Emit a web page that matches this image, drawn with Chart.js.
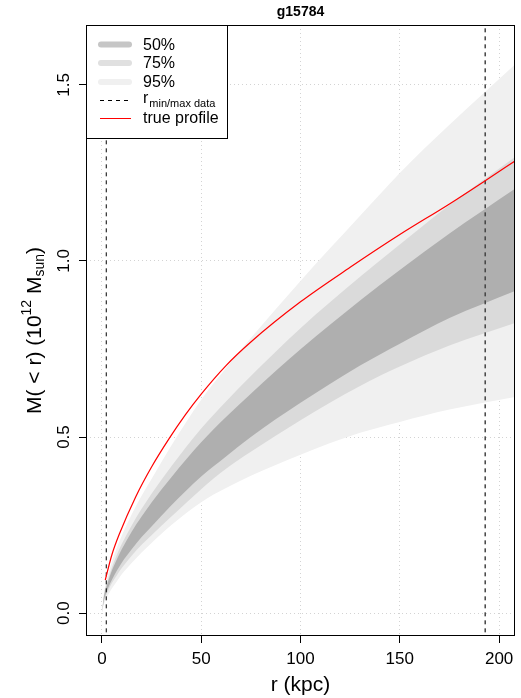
<!DOCTYPE html>
<html>
<head>
<meta charset="utf-8">
<script src="https://cdn.jsdelivr.net/npm/chart.js@4/dist/chart.umd.min.js"></script>
<style>
  body { margin: 0; background: #fff; }
  canvas { display: block; }
</style>
</head>
<body>
<canvas id="massChart" width="521" height="698"></canvas>
<script>
// radius grid (kpc)
const radius = [0, 1, 2, 3.5, 5, 7.5, 10, 15, 20, 25, 35, 50, 62.5, 75, 100, 130, 150, 175, 208];

// credible bands, M(<r) in 1e12 Msun
const upper95 = [0, 0.056, 0.084, 0.117, 0.146, 0.185, 0.220, 0.280, 0.333, 0.381, 0.476, 0.606, 0.696, 0.781, 0.943, 1.128, 1.250, 1.387, 1.558];
const upper75 = [0, 0.050, 0.075, 0.104, 0.129, 0.165, 0.196, 0.249, 0.296, 0.339, 0.417, 0.524, 0.601, 0.673, 0.809, 0.955, 1.047, 1.159, 1.295];
const upper50 = [0, 0.046, 0.069, 0.096, 0.120, 0.152, 0.181, 0.231, 0.274, 0.314, 0.386, 0.485, 0.557, 0.623, 0.749, 0.888, 0.974, 1.078, 1.205];
const lower50 = [0, 0.036, 0.055, 0.076, 0.094, 0.120, 0.143, 0.181, 0.216, 0.246, 0.306, 0.388, 0.445, 0.500, 0.597, 0.703, 0.765, 0.838, 0.915];
const lower75 = [0, 0.032, 0.049, 0.068, 0.085, 0.107, 0.128, 0.163, 0.194, 0.221, 0.274, 0.352, 0.410, 0.458, 0.548, 0.645, 0.700, 0.760, 0.824];
const lower95 = [0, 0.025, 0.039, 0.055, 0.070, 0.090, 0.110, 0.142, 0.172, 0.199, 0.250, 0.315, 0.355, 0.390, 0.450, 0.512, 0.543, 0.578, 0.614];

// true profile
const trueR = [1.7, 5, 8.9, 17, 25, 34, 42, 50, 62.5, 75, 100, 125, 150, 175, 193, 208];
const trueM = [0.094, 0.165, 0.226, 0.330, 0.415, 0.497, 0.563, 0.622, 0.703, 0.770, 0.884, 0.982, 1.075, 1.162, 1.228, 1.284];

// r_min / r_max of the data
const dataLimits = [2.2, 193];

const xTicks = [0, 50, 100, 150, 200];
const yTicks = [0, 0.5, 1, 1.5];

const font = '"Liberation Sans", Arial, sans-serif';

function pts(xs, ys) {
  return xs.map((x, i) => ({ x: x, y: ys[i] }));
}

function band(data, color, fill, order) {
  return {
    data: data,
    borderWidth: 0,
    pointRadius: 0,
    backgroundColor: color,
    fill: fill,
    order: order,
    cubicInterpolationMode: "monotone",
  };
}

function vline(x, color, width) {
  return {
    data: [{ x: x, y: -0.1 }, { x: x, y: 1.8 }],
    borderColor: color,
    borderWidth: width,
    borderDash: [4, 4],
    pointRadius: 0,
    fill: false,
    order: 2,
  };
}

// title, box, rotated y labels and legend
const decorations = {
  id: "decorations",
  afterDraw(chart) {
    const ctx = chart.ctx;
    const a = chart.chartArea;
    const ys = chart.scales.y;
    ctx.save();

    // title
    ctx.fillStyle = "#000";
    ctx.font = "bold 14px " + font;
    ctx.textAlign = "center";
    ctx.textBaseline = "middle";
    ctx.fillText("g15784", (a.left + a.right) / 2, 12);

    // frame
    ctx.strokeStyle = "#000";
    ctx.lineWidth = 1;
    ctx.strokeRect(a.left + 0.5, a.top + 0.5, a.right - a.left - 1, a.bottom - a.top - 1);

    // y tick labels, rotated as in R
    ctx.font = "17px " + font;
    yTicks.forEach(v => {
      const py = ys.getPixelForValue(v);
      ctx.save();
      ctx.translate(64, py);
      ctx.rotate(-Math.PI / 2);
      ctx.fillText(v.toFixed(1), 0, 0);
      ctx.restore();
    });

    // y axis title with super/subscripts
    const big = "21px " + font, small = "14px " + font;
    const parts = [
      ["M( < r) (10", big, 0],
      ["12", small, -8],
      [" M", big, 0],
      ["sun", small, 5],
      [")", big, 0],
    ];
    let total = 0;
    parts.forEach(p => { ctx.font = p[1]; total += ctx.measureText(p[0]).width; });
    ctx.save();
    ctx.translate(35, (a.top + a.bottom) / 2);
    ctx.rotate(-Math.PI / 2);
    ctx.textAlign = "left";
    let cx = -total / 2;
    parts.forEach(p => {
      ctx.font = p[1];
      ctx.fillText(p[0], cx, p[2]);
      cx += ctx.measureText(p[0]).width;
    });
    ctx.restore();

    // legend
    const lx = a.left, ly = a.top, lw = 141, lh = 113;
    ctx.fillStyle = "#fff";
    ctx.fillRect(lx, ly, lw, lh);
    ctx.strokeRect(lx + 0.5, ly + 0.5, lw, lh);
    const rows = [44.5, 63, 82, 100, 118];
    const swatch = ["#c6c6c6", "#e0e0e0", "#f0f0f0"];
    ctx.lineCap = "round";
    swatch.forEach((c, i) => {
      ctx.strokeStyle = c;
      ctx.lineWidth = 6;
      ctx.beginPath();
      ctx.moveTo(101, rows[i]);
      ctx.lineTo(129, rows[i]);
      ctx.stroke();
    });
    ctx.lineCap = "butt";
    ctx.lineWidth = 1;
    ctx.strokeStyle = "#000";
    ctx.setLineDash([4, 4]);
    ctx.beginPath();
    ctx.moveTo(100, rows[3] + 0.5);
    ctx.lineTo(131, rows[3] + 0.5);
    ctx.stroke();
    ctx.setLineDash([]);
    ctx.strokeStyle = "#ff0000";
    ctx.beginPath();
    ctx.moveTo(100, rows[4] + 0.5);
    ctx.lineTo(131, rows[4] + 0.5);
    ctx.stroke();

    ctx.fillStyle = "#000";
    ctx.textAlign = "left";
    ctx.font = "16px " + font;
    ["50%", "75%", "95%"].forEach((t, i) => ctx.fillText(t, 143, rows[i] + 1));
    ctx.fillText("r", 143, rows[3] - 1);
    const rw = ctx.measureText("r").width;
    ctx.font = "11px " + font;
    ctx.fillText("min/max data", 143 + rw + 1, rows[3] + 4);
    ctx.font = "16px " + font;
    ctx.fillText("true profile", 143, rows[4] + 1);

    ctx.restore();
  },
};

function createMassChart() {
  const ctx = document.getElementById("massChart").getContext("2d");

  const data = {
    datasets: [
      band(pts(radius, upper95), "#f0f0f0", "+1", 6),
      band(pts(radius, lower95), "#f0f0f0", false, 6),
      band(pts(radius, upper75), "#dadada", "+1", 5),
      band(pts(radius, lower75), "#dadada", false, 5),
      band(pts(radius, upper50), "#afafaf", "+1", 4),
      band(pts(radius, lower50), "#afafaf", false, 4),
      vline(dataLimits[0], "#000", 1),
      vline(dataLimits[1], "#444", 1.5),
      {
        data: pts(trueR, trueM),
        borderColor: "#ff0000",
        borderWidth: 1.2,
        pointRadius: 0,
        fill: false,
        order: 1,
        cubicInterpolationMode: "monotone",
      },
    ],
  };

  const config = {
    type: "line",
    data: data,
    options: {
      responsive: false,
      animation: false,
      devicePixelRatio: 1,
      layout: { padding: { top: 25, right: 6, left: 0, bottom: 0 } },
      plugins: {
        legend: { display: false },
        tooltip: { enabled: false },
      },
      scales: {
        x: {
          type: "linear",
          min: -8,
          max: 208,
          afterFit: s => { s.height = 62; },
          afterBuildTicks: s => { s.ticks = xTicks.map(v => ({ value: v })); },
          border: { display: false, dash: [1, 3] },
          grid: {
            color: "#d3d3d3",
            lineWidth: 1,
            tickLength: 7,
            tickColor: "#000",
            tickBorderDash: [],
          },
          ticks: {
            color: "#000",
            font: { family: font, size: 17 },
            padding: 6,
            maxRotation: 0,
          },
          title: {
            display: true,
            text: "r (kpc)",
            color: "#000",
            font: { family: font, size: 21 },
            padding: { top: 0, bottom: 0 },
          },
        },
        y: {
          type: "linear",
          min: -0.065,
          max: 1.67,
          afterFit: s => { s.width = 86; },
          afterBuildTicks: s => { s.ticks = yTicks.map(v => ({ value: v })); },
          border: { display: false, dash: [1, 3] },
          grid: {
            color: "#d3d3d3",
            lineWidth: 1,
            tickLength: 7,
            tickColor: "#000",
            tickBorderDash: [],
          },
          ticks: { display: false },
        },
      },
    },
    plugins: [decorations],
  };

  const massChart = new Chart(ctx, config);
}

createMassChart();
</script>
</body>
</html>
